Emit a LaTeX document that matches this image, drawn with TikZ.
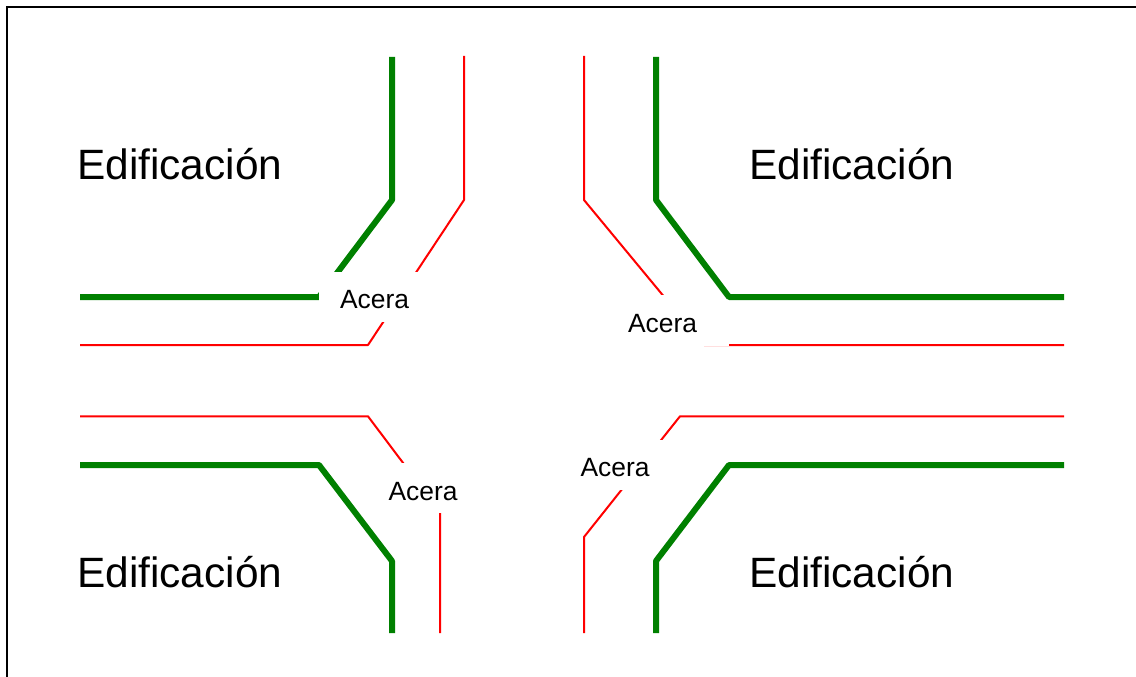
\documentclass[tikz,border=0pt]{standalone}
\usepackage{fontspec}
\setmainfont{Liberation Sans}
\definecolor{wallgreen}{RGB}{0,128,0}
\begin{document}
\begin{tikzpicture}[x=1pt,y=-1pt]
\tikzstyle{wall} = [line width = 6pt, color = wallgreen, line join = bevel] % building line
\tikzstyle{kerb} = [line width = 2pt, color = red, line join = bevel] % kerb line
\tikzstyle{frame} = [line width = 2pt, color = black] % outer frame
\tikzstyle{building} = [anchor = base west, inner sep = 0pt, font = \fontsize{42.4pt}{48pt}\selectfont] % big label
\tikzstyle{sidewalk} = [fill = white, inner xsep = 0pt, inner ysep = 0pt, minimum width = 111pt, text height = 37pt, text depth = 13pt, font = \fontsize{26.4pt}{30pt}\selectfont] % small label, masks the lines behind it
\useasboundingbox (0,0) rectangle (1136,677);
\draw[frame](7,677)--(7,7)--(1136,7); % frame is cut at bottom and right
% kerbs
\draw[kerb](464,56)--(464,200)--(368,345)--(80,345); % top left
\draw[kerb](584,56)--(584,200)--(704,345)--(1064,345); % top right
\draw[kerb](80,416.3)--(368,416.3)--(440,512)--(440,633); % bottom left
\draw[kerb](1064,416.3)--(680,416.3)--(584,537)--(584,633); % bottom right
% building lines that pass behind a label
\draw[wall](392,57)--(392,200)--(319,297)--(80,297); % top left
% labels
\node(aceraNW)[sidewalk] at (374.5,296.5){Acera};
\node(aceraNE)[sidewalk, minimum width = 133pt, text depth = 13.3pt] at (662.5,320.6){Acera};
\node(aceraSW)[sidewalk] at (423,488){Acera};
\node(aceraSE)[sidewalk] at (615,464.5){Acera};
% remaining building lines
\draw[wall](656,57)--(656,200)--(729,297)--(1064,297); % top right
\draw[wall](80,465)--(319,465)--(392,561)--(392,633); % bottom left
\draw[wall](1064,465)--(729,465)--(656,561)--(656,633); % bottom right
\node(edifNW)[building] at (77,179.3){Edificación};
\node(edifNE)[building] at (749,179.3){Edificación};
\node(edifSW)[building] at (77,587.3){Edificación};
\node(edifSE)[building] at (749,587.3){Edificación};
\end{tikzpicture}
\end{document}
